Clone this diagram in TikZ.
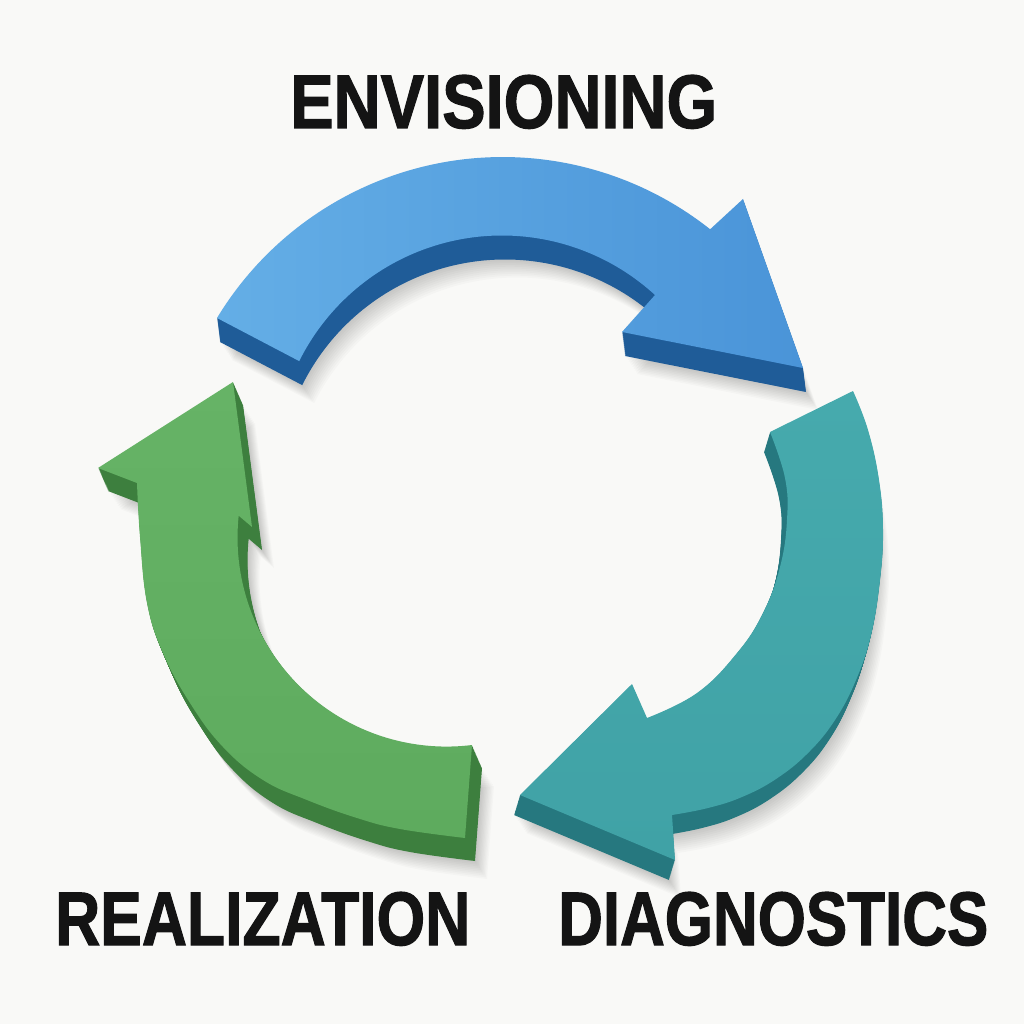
\documentclass[tikz,border=0pt]{standalone}
\usepackage{fontspec}
\setmainfont{Liberation Sans}
\newfontfamily\labelfont{Liberation Sans}[UprightFont={* Bold}, FakeBold=1.6]
\usepackage{graphicx}
\definecolor{bg}{HTML}{F9F9F7}
\definecolor{txt}{HTML}{141414}
\definecolor{blueA}{HTML}{64AEE6}
\definecolor{blueB}{HTML}{4A94D8}
\definecolor{blueS}{HTML}{1F5C98}
\definecolor{tealA}{HTML}{46AAAD}
\definecolor{tealB}{HTML}{40A2A6}
\definecolor{tealS}{HTML}{26787F}
\definecolor{greenA}{HTML}{66B366}
\definecolor{greenB}{HTML}{5EAB5E}
\definecolor{greenS}{HTML}{3D7F3E}
\newcommand\bluepath{(217,318) arc[start angle=211.2, end angle=308.4, radius=334] -- (743,199) -- (803,368) -- (622,332) -- (655,295) arc[start angle=312.5, end angle=206.45, radius=226.5] -- cycle}
\newcommand\tealpath{plot[smooth, tension=0.7] coordinates {(853,391) (868,430) (879,480) (883,530) (880,580) (871,635) (856,680) (835,720) (808,753) (776,779) (742,797) (708,808) (672,815)} -- (675,860) -- (520,795) -- (632,684) -- (647,718) -- plot[smooth, tension=0.7] coordinates {(647,718) (697,693) (737,653) (763,613) (780,567) (787,520) (785,478) (770,432)} -- cycle}
\newcommand\greenpath{(233,382) -- (98,468) -- (137,483) -- plot[smooth, tension=0.7] coordinates {(137,483) (140,537) (147,603) (163,653) (190,703) (223,747) (263,780) (307,800) (357,818) (400,829) (465,838)} -- (472,745) arc[start angle=83, end angle=186, radius=209] -- (252,527) -- cycle}
\newcommand\arrowshadow[3]{\foreach \s in {1,...,10}{\fill[black, opacity=0.018, shift={({#2+\s*1.2},{#3+\s*1.8})}] #1;}}
\newcommand\extrude[4]{\foreach \k in {1,...,24}{\fill[#4, shift={({#2*\k/24},{#3*\k/24})}] #1;}}
\tikzset{label3d/.style={anchor=base west, inner sep=0pt, text=txt, font=\labelfont}}
\begin{document}
\begin{tikzpicture}[x=1pt,y=-1pt]
\fill[bg] (0,0) rectangle (1024,1024);
\useasboundingbox (0,0) rectangle (1024,1024);
% shadows
\arrowshadow{\bluepath}{3}{24}
\arrowshadow{\tealpath}{-6}{20}
\arrowshadow{\greenpath}{10}{23}
% blue arrow
\extrude{\bluepath}{3}{24}{blueS}
\shade[left color=blueA, right color=blueB] \bluepath;
% teal arrow
\extrude{\tealpath}{-6}{20}{tealS}
\shade[top color=tealA, bottom color=tealB] \tealpath;
% green arrow
\extrude{\greenpath}{10}{23}{greenS}
\shade[top color=greenA, bottom color=greenB] \greenpath;
% labels
\node[label3d] (env) at (290,128) {\resizebox{427pt}{53pt}{ENVISIONING}};
\node[label3d] (rea) at (55,945) {\resizebox{415pt}{53pt}{REALIZATION}};
\node[label3d] (dia) at (558,945) {\resizebox{430pt}{53pt}{DIAGNOSTICS}};
\end{tikzpicture}
\end{document}
